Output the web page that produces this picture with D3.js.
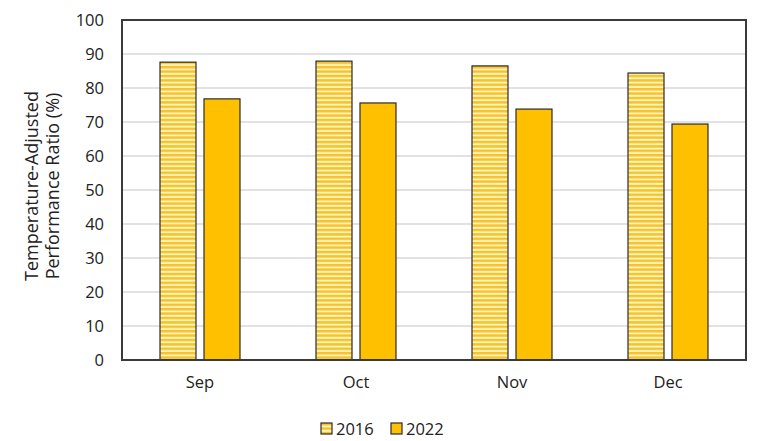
<!DOCTYPE html>
<html><head><meta charset="utf-8">
<script src="https://cdn.jsdelivr.net/npm/d3@7"></script>
<style>body{margin:0;background:#fff}svg{display:block;font-family:"Open Sans","Noto Sans",sans-serif}</style>
</head><body>
<svg id="c" width="757" height="441"></svg>
<script>
const categories = ["Sep", "Oct", "Nov", "Dec"];
const series = ["2016", "2022"];
const values2016 = [87.6, 87.9, 86.5, 84.4];
const values2022 = [76.8, 75.6, 73.8, 69.4];
const yTicks = [0, 10, 20, 30, 40, 50, 60, 70, 80, 90, 100];

const svg = d3.select("#c");
const m = {l: 122, r: 746, t: 20, b: 360};
const defs = svg.append("defs");
const pat = defs.append("pattern").attr("id", "stripes").attr("patternUnits", "userSpaceOnUse")
  .attr("width", 8).attr("height", 4.4);
pat.append("rect").attr("width", 8).attr("height", 4.4).attr("fill", "#fff3b8");
pat.append("rect").attr("width", 8).attr("height", 2.4).attr("fill", "#f4c22c");

const x = d3.scaleBand().domain(categories).range([m.l, m.r]);
const xs = d3.scaleBand().domain(series).range([-40, 40]).paddingInner(0.1818);
const y = d3.scaleLinear().domain([0, 100]).range([m.b, m.t]);

// gridlines
svg.append("g").selectAll("line").data(yTicks.filter(d => d > 0 && d < 100)).join("line")
  .attr("x1", m.l).attr("x2", m.r).attr("y1", d => y(d)).attr("y2", d => y(d))
  .attr("stroke", "#d9d9d9").attr("stroke-width", 1.5);

const data = [];
categories.forEach((c, i) => {
  data.push({c, s: "2016", v: values2016[i]});
  data.push({c, s: "2022", v: values2022[i]});
});
svg.append("g").selectAll("rect").data(data).join("rect")
  .attr("x", d => x(d.c) + x.bandwidth() / 2 + xs(d.s))
  .attr("width", xs.bandwidth())
  .attr("y", d => y(d.v)).attr("height", d => y(0) - y(d.v))
  .attr("fill", d => d.s === "2016" ? "url(#stripes)" : "#ffc000")
  .attr("stroke", "#2a2a2a").attr("stroke-width", 1.2);

// frame
svg.append("rect").attr("x", m.l).attr("y", m.t).attr("width", m.r - m.l).attr("height", m.b - m.t)
  .attr("fill", "none").attr("stroke", "#3a3a3a").attr("stroke-width", 2);

const ff = "'Open Sans','Noto Sans',sans-serif";
// y axis
const ya = svg.append("g").attr("transform", `translate(${m.l},0)`)
  .call(d3.axisLeft(y).tickValues(yTicks).tickSize(0).tickPadding(18));
ya.select(".domain").remove();
ya.selectAll("text").attr("font-size", 16.5).attr("fill", "#222").style("font-family", ff);

// x axis
const xa = svg.append("g").attr("transform", `translate(0,${m.b})`)
  .call(d3.axisBottom(x).tickSize(0).tickPadding(16));
xa.select(".domain").remove();
xa.selectAll("text").attr("font-size", 16.5).attr("fill", "#222").style("font-family", ff);

// y title
const t = svg.append("text").attr("transform", "translate(0,186) rotate(-90)")
  .attr("text-anchor", "middle").attr("font-size", 18).attr("fill", "#222");
t.append("tspan").attr("x", 0).attr("y", 38).text("Temperature-Adjusted");
t.append("tspan").attr("x", 0).attr("y", 59).text("Performance Ratio (%)");

// legend
const leg = [{s: "2016", x: 321}, {s: "2022", x: 391}];
const lg = svg.append("g").selectAll("g").data(leg).join("g").attr("transform", d => `translate(${d.x},423)`);
lg.append("rect").attr("width", 11).attr("height", 11)
  .attr("fill", d => d.s === "2016" ? "url(#stripes)" : "#ffc000")
  .attr("stroke", "#2a2a2a").attr("stroke-width", 1.2);
lg.append("text").attr("x", 15).attr("y", 11.5).attr("font-size", 16.5).attr("fill", "#222").text(d => d.s);
</script>
</body></html>
